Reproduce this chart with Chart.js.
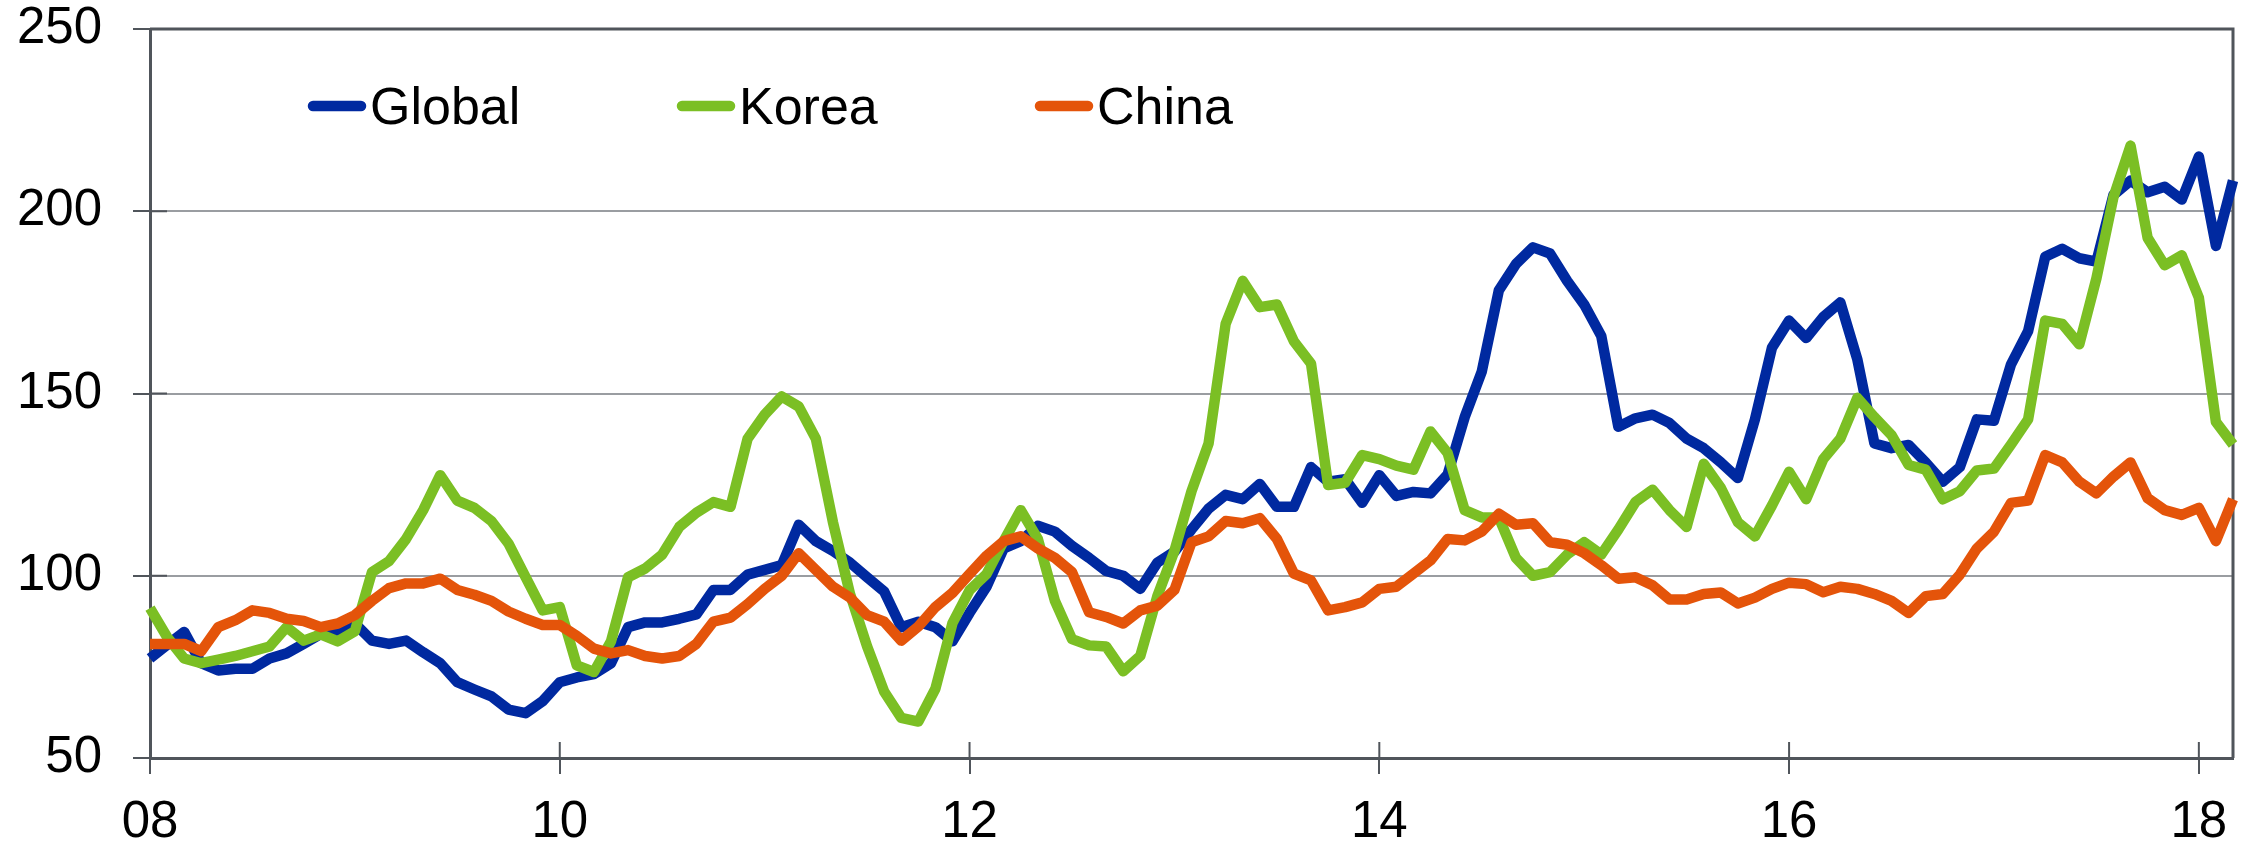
<!DOCTYPE html>
<html><head><meta charset="utf-8">
<script src="https://cdn.jsdelivr.net/npm/chart.js@4.4.1/dist/chart.umd.min.js"></script>
<style>html,body{margin:0;padding:0;background:#fff;}#wrap{width:2255px;height:846px;}</style>
</head><body><div id="wrap"><canvas id="c" width="2255" height="846"></canvas></div>
<script>
// Monthly categories: Jan 2008 .. Mar 2018
const months = [];
for (let y = 2008; y <= 2018; y++) for (let m = 1; m <= 12; m++) {
  if (y === 2018 && m > 3) break;
  months.push(y + '-' + String(m).padStart(2, '0'));
}
const tickLabels = ['08', '10', '12', '14', '16', '18'];
const seriesNames = ['Global', 'Korea', 'China'];

const globalValues = [
 77.3,81,84.6,76,74,74.5,74.5,77.3,78.7,81.3,84,85,
 86.9,82.2,81.3,82.2,79,76,70.8,68.8,66.9,63.3,62.3,65.6,
 70.8,72.1,73,76,85.9,87.2,87.2,88.2,89.4,96.1,96.1,100.3,
 101.6,102.9,114,109.5,106.8,103.6,99.6,95.7,85.9,87.4,85.9,82,
 89.8,97,107.5,109.5,113.7,112.1,108.2,104.9,101.3,100,96.4,103.6,
 106.6,112.7,118.4,122.2,121,125.2,118.9,118.9,129.8,125.8,126.5,120,
 127.6,121.9,123,122.6,127.8,143.5,156,178.3,185.5,190.1,188.4,180.9,
 174.4,165.8,140.9,143.2,144.2,141.9,137.6,135,131.1,126.8,142.9,162.6,
 170,165.2,171,175,159.3,136.3,135,135.9,131.1,125.8,129.8,142.9,
 142.5,158,167.1,187.5,189.7,187.1,186.2,204.5,208.4,205.2,206.7,203.2,
 215,190.5,208.4
];
const koreaValues = [
 91.1,83.2,77.3,76,77,78,79.3,80.6,85.9,82.2,83.9,82,
 84.8,101,104,110.1,118,127.6,120.6,118.6,115,108.8,99.6,90.5,
 91.4,75.4,73.6,82,99.6,102,105.8,113.4,117.3,120.2,118.9,137.6,
 144.2,149.2,146.4,137.6,114.7,95,80.6,68.2,61,60,69,87,
 96,100.5,109.5,118,110.1,93.1,82.6,80.9,80.6,73.8,78,94.4,
 106.8,123.2,136.3,169.1,180.9,173.7,174.4,164.3,158.2,124.9,125.5,133.1,
 132,130.2,129.1,139.6,133.7,118,116,116,104.9,100,101,105.8,
 109.2,105.8,112.7,120.2,123.6,118,113.4,130.7,124.1,114.7,110.8,119.3,
 128.5,121,132,137.6,148.8,143.5,138.6,130.4,129.1,121,123.2,128.9,
 129.4,136,142.9,170,169.1,163.5,181.6,203.9,218,192.7,185.2,187.9,
 176.3,142.2,136
];
const chinaValues = [
 81.3,81.3,81.3,79.3,85.9,87.8,90.5,89.8,88.2,87.6,85.9,86.9,
 89.2,93.1,96.6,97.9,97.9,99.2,96.1,94.8,93.1,90.2,88.2,86.5,
 86.5,83.5,80,78.7,79.6,78,77.3,78,81.3,87.4,88.5,92.2,
 96.4,100,106.2,101.6,97,94,89.2,87.4,82.2,86.1,91.4,95.3,
 100.5,105.5,109.5,110.8,107.5,104.9,101,90,88.7,86.9,90.5,91.8,
 96.1,109.2,110.8,115,114.4,115.8,110.1,100.6,98.7,90.5,91.4,92.7,
 96.4,97,100.6,104.2,110.1,109.7,112.1,117,114,114.4,109.2,108.5,
 106.2,102.9,99.2,99.6,97.4,93.5,93.5,95,95.4,92.4,94,96.4,
 98.1,97.7,95.5,97,96.4,95,93.1,89.8,94.4,95,100.3,107.5,
 112.1,120,120.6,133.1,131.1,125.8,122.6,127.2,131.1,121.3,118,116.7,
 118.6,109.5,121
];

const FONT = "'Liberation Sans', Arial, Helvetica, sans-serif";
const AXIS = '#50555b';
const GRID = '#9a9da1';
const colors = ['#0029A0', '#7BBF24', '#E4540A'];

const framePlugin = {
  id: 'frame',
  beforeDatasetsDraw(chart) {
    const {ctx, chartArea: a, scales} = chart;
    ctx.save();
    ctx.strokeStyle = AXIS;
    ctx.lineWidth = 3;
    ctx.beginPath();
    ctx.moveTo(a.left, a.top); ctx.lineTo(a.right, a.top); ctx.lineTo(a.right, a.bottom);
    ctx.stroke();
    ctx.lineWidth = 2;
    scales.y.ticks.forEach(t => {
      const y = scales.y.getPixelForValue(t.value);
      ctx.beginPath(); ctx.moveTo(a.left, y); ctx.lineTo(a.left + 17, y); ctx.stroke();
    });
    scales.x.ticks.forEach((t, i) => {
      if (t.label === null || t.label === undefined) return;
      const x = scales.x.getPixelForTick(i);
      ctx.beginPath(); ctx.moveTo(x, a.bottom); ctx.lineTo(x, a.bottom - 16); ctx.stroke();
    });
    ctx.restore();
  }
};

const legendPlugin = {
  id: 'manualLegend',
  afterDraw(chart) {
    const {ctx} = chart;
    const xs = [308, 677, 1035];
    const lineLen = 58, yLine = 106, yText = 124;
    ctx.save();
    ctx.font = '52px ' + FONT;
    ctx.fillStyle = '#000';
    ctx.textBaseline = 'alphabetic';
    ctx.textAlign = 'left';
    chart.data.datasets.forEach((ds, i) => {
      ctx.strokeStyle = ds.borderColor;
      ctx.lineWidth = 10.5;
      ctx.lineCap = 'round';
      ctx.beginPath(); ctx.moveTo(xs[i] + 5, yLine); ctx.lineTo(xs[i] + lineLen - 5, yLine); ctx.stroke();
      ctx.fillText(ds.label, xs[i] + lineLen + 4, yText);
    });
    ctx.restore();
  }
};

new Chart(document.getElementById('c'), {
  type: 'line',
  data: {
    labels: months,
    datasets: [
      {label: seriesNames[0], data: globalValues, borderColor: colors[0], order: 2},
      {label: seriesNames[1], data: koreaValues, borderColor: colors[1], order: 1},
      {label: seriesNames[2], data: chinaValues, borderColor: colors[2], order: 0}
    ].map(d => Object.assign(d, {borderWidth: 10.5, pointRadius: 0, tension: 0, fill: false,
      borderJoinStyle: 'round', borderCapStyle: 'butt'}))
  },
  options: {
    responsive: false,
    animation: false,
    devicePixelRatio: 1,
    layout: {padding: {top: 29, right: 22, left: 0, bottom: 0}},
    plugins: {legend: {display: false}, tooltip: {enabled: false}},
    scales: {
      x: {
        type: 'category',
        offset: false,
        afterFit(s) { s.height = 88; s.paddingLeft = 0; s.paddingRight = 0; },
        border: {display: true, color: AXIS, width: 3},
        grid: {drawOnChartArea: false, drawTicks: true, tickLength: 16, color: AXIS, tickColor: AXIS, lineWidth: 2},
        ticks: {
          autoSkip: false, maxRotation: 0, minRotation: 0, padding: 18,
          color: '#000', font: {family: FONT, size: 51},
          callback: (v, i) => (i % 24 === 0 ? tickLabels[i / 24] : null)
        }
      },
      y: {
        min: 50, max: 250,
        afterFit(s) { s.width = 150; s.paddingTop = 0; s.paddingBottom = 0; },
        border: {display: true, color: AXIS, width: 3},
        grid: {color: ctx => (ctx.tick && ctx.tick.value === 250 ? AXIS : GRID), lineWidth: 2,
          tickLength: 17, tickColor: AXIS},
        ticks: {stepSize: 50, padding: 31, color: '#000', font: {family: FONT, size: 51}}
      }
    }
  },
  plugins: [framePlugin, legendPlugin]
});
</script></body></html>
